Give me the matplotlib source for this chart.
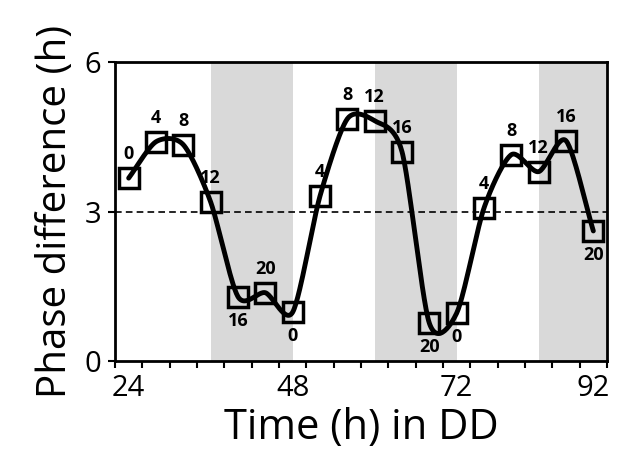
import numpy as np
import matplotlib
matplotlib.use("Agg")
from matplotlib import pyplot as plt

plt.rcParams['font.family'] = ['Open Sans', 'DejaVu Sans']

# sampling times in constant darkness and measured phase differences
time_h = [24, 28, 32, 36, 40, 44, 48, 52, 56, 60, 64, 68, 72, 76, 80, 84, 88, 92]
phase_diff = [3.67, 4.40, 4.34, 3.19, 1.29, 1.37, 0.98, 3.31, 4.86,
              4.82, 4.20, 0.76, 0.96, 3.07, 4.14, 3.80, 4.42, 2.61]
ct_labels = ['0', '4', '8', '12', '16', '20', '0', '4', '8',
             '12', '16', '20', '0', '4', '8', '12', '16', '20']
label_below = [False, False, False, False, True, False, True, False, False,
               False, False, True, True, False, False, False, False, True]
# subjective night
dark_bands = [(36, 48), (60, 72), (84, 94)]
x_ticks = [24, 48, 72, 92]
y_ticks = [0, 3, 6]


def smooth_curve(x, y, n=30, k=0.8):
    # cardinal spline, k scales the tangents (1.0 = Catmull-Rom)
    x = np.asarray(x, float)
    y = np.asarray(y, float)
    px = np.concatenate([[2*x[0]-x[1]], x, [2*x[-1]-x[-2]]])
    py = np.concatenate([[2*y[0]-y[1]], y, [2*y[-1]-y[-2]]])
    t = np.linspace(0, 1, n)
    h00 = 2*t**3 - 3*t**2 + 1
    h10 = t**3 - 2*t**2 + t
    h01 = -2*t**3 + 3*t**2
    h11 = t**3 - t**2
    xs, ys = [], []
    for i in range(1, len(px)-2):
        for arr, out in ((px, xs), (py, ys)):
            m1 = k*(arr[i+1]-arr[i-1])/2
            m2 = k*(arr[i+2]-arr[i])/2
            out.extend(h00*arr[i] + h10*m1 + h01*arr[i+1] + h11*m2)
    return np.array(xs), np.array(ys)


fig = plt.figure(figsize=(6.17, 4.61), dpi=100)
ax = fig.add_axes([115/617, 1-361/461, 492/617, 299/461])

for a, b in dark_bands:
    ax.axvspan(a, b, color='#d9d9d9', lw=0, zorder=0)

ax.axhline(3, color='black', lw=1.2, ls=(0, (4, 2.5)), zorder=1)

sx, sy = smooth_curve(time_h, phase_diff)
ax.plot(sx, sy, color='black', lw=3.5, zorder=2, solid_capstyle='round')
ax.plot(time_h, phase_diff, ls='none', marker='s', ms=15, mfc='none',
        mec='black', mew=2.5, zorder=3)

for x, y, s, below in zip(time_h, phase_diff, ct_labels, label_below):
    if below:
        ax.text(x, y - 0.3, s, ha='center', va='top', fontsize=13,
                fontweight='bold')
    else:
        ax.text(x, y + 0.3, s, ha='center', va='bottom', fontsize=13,
                fontweight='bold')

ax.set_xlim(22, 94)
ax.set_ylim(0, 6)
ax.set_xticks(x_ticks)
ax.set_xticks(np.arange(22, 95, 4), minor=True)
ax.set_yticks(y_ticks)
ax.tick_params(axis='x', which='major', length=0, labelsize=21, pad=9)
ax.tick_params(axis='x', which='minor', length=5, width=1.5, direction='out')
ax.tick_params(axis='y', length=5, width=1.5, labelsize=21, pad=5)
for sp in ax.spines.values():
    sp.set_linewidth(2)

ax.set_xlabel('Time (h) in DD', fontsize=30, labelpad=3)
ax.set_ylabel('Phase difference (h)', fontsize=29, labelpad=6)

fig.savefig('out.png', dpi=100)
